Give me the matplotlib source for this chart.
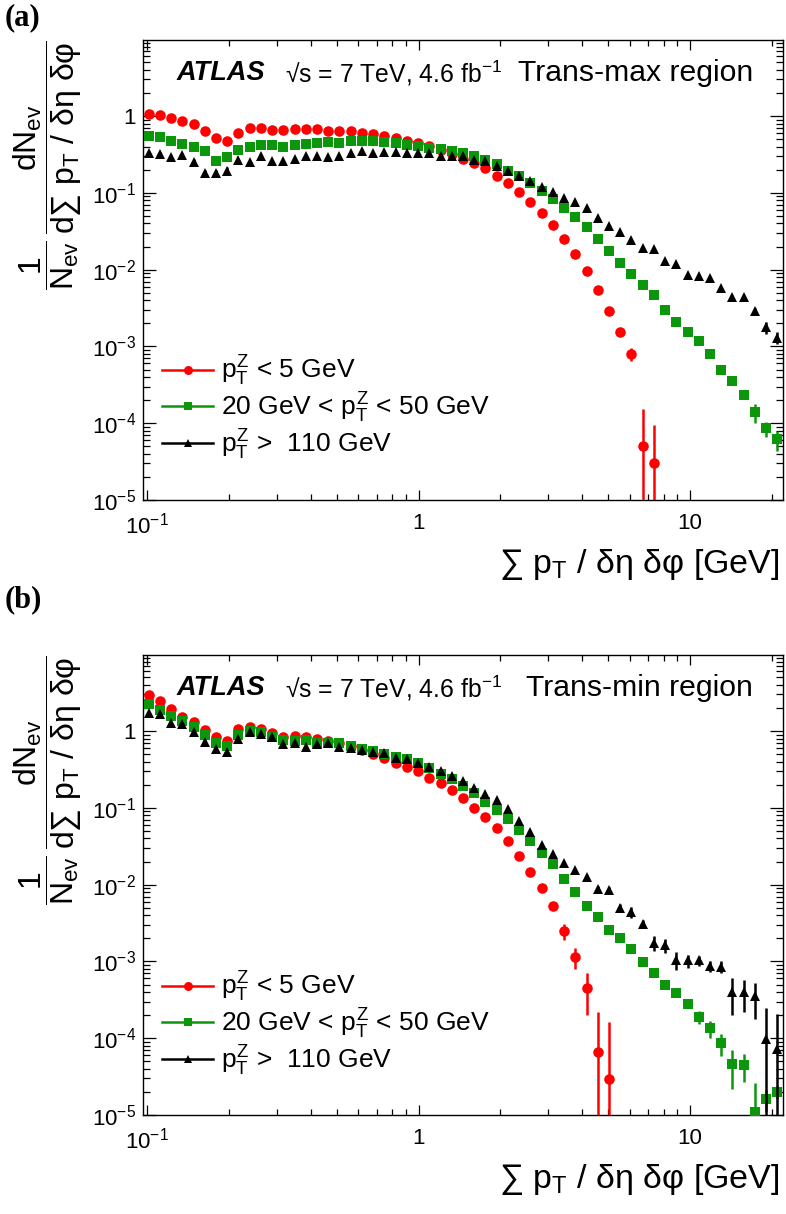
import numpy as np
import matplotlib
matplotlib.use('Agg')
import matplotlib.pyplot as plt
from matplotlib.lines import Line2D
from matplotlib.ticker import FixedLocator, FixedFormatter, LogLocator, NullFormatter

plt.rcParams['font.family'] = ['Liberation Sans', 'DejaVu Sans']
plt.rcParams['mathtext.fontset'] = 'custom'
plt.rcParams['mathtext.rm'] = 'Liberation Sans'
plt.rcParams['mathtext.it'] = 'Liberation Sans'
plt.rcParams['mathtext.bf'] = 'Liberation Sans:bold'
plt.rcParams['mathtext.sf'] = 'Liberation Sans'

# ---------------- data ----------------
# bin centres of sum pT / (deta dphi) [GeV]
x_centres = [0.1011, 0.1112, 0.1223, 0.1346, 0.1480, 0.1628, 0.1791, 0.1970, 0.2167, 0.2384,
             0.2622, 0.2884, 0.3173, 0.3490, 0.3839, 0.4223, 0.4646, 0.5110, 0.5621, 0.6183,
             0.6802, 0.7482, 0.8230, 0.9053, 0.9958, 1.0954, 1.2050, 1.3255, 1.4580, 1.6038,
             1.7642, 1.9406, 2.1347, 2.3481, 2.5830, 2.8412, 3.1254, 3.4379, 3.7817, 4.1599,
             4.5759, 5.0335, 5.5368, 6.0905, 6.6996, 7.3695, 8.1065, 8.9171, 9.8088, 10.790,
             11.869, 13.056, 14.361, 15.797, 17.377, 19.115, 21.026]

series_labels = [r'$p_{\mathrm{T}}^{\mathrm{Z}}$ < 5 GeV',
                 r'20 GeV < $p_{\mathrm{T}}^{\mathrm{Z}}$ < 50 GeV',
                 r'$p_{\mathrm{T}}^{\mathrm{Z}}$ >  110 GeV']

# ---- panel (a): trans-max ----
a_low = [1.06, 1.03, 0.94, 0.86, 0.79, 0.64, 0.52, 0.48, 0.60, 0.70,
         0.70, 0.65, 0.65, 0.68, 0.67, 0.68, 0.64, 0.64, 0.64, 0.61,
         0.58, 0.55, 0.52, 0.48, 0.45, 0.41, 0.36, 0.32, 0.28, 0.243,
         0.211, 0.168, 0.134, 0.102, 0.076, 0.055, 0.038, 0.0253, 0.0162, 0.0096,
         0.0054, 0.0029, 0.00155, 0.00080, 5.1e-5, 3.0e-5]
a_low_err = [0] * 40 + [0.0003, 0.0002, 0.00015, 0.00016, 1.0e-4, 6.4e-5]

a_mid = [0.545, 0.53, 0.47, 0.43, 0.40, 0.35, 0.26, 0.29, 0.36, 0.40,
         0.42, 0.42, 0.40, 0.42, 0.43, 0.45, 0.46, 0.45, 0.47, 0.47,
         0.47, 0.46, 0.44, 0.42, 0.41, 0.39, 0.37, 0.35, 0.33, 0.305,
         0.27, 0.236, 0.195, 0.165, 0.135, 0.107, 0.084, 0.063, 0.048, 0.036,
         0.0253, 0.0173, 0.0121, 0.0088, 0.0063, 0.0047, 0.0030, 0.0021, 0.00155, 0.00117,
         0.00080, 0.00049, 0.00036, 0.000235, 0.000140, 8.6e-5, 6.2e-5]
a_mid_err = [0] * 50 + [4e-5, 3e-5, 3e-5, 3e-5, 4e-5, 1.9e-5, 1.8e-5]

a_high = [0.33, 0.32, 0.29, 0.31, 0.255, 0.18, 0.18, 0.195, 0.27, 0.25,
          0.30, 0.26, 0.26, 0.28, 0.30, 0.30, 0.29, 0.30, 0.33, 0.35,
          0.33, 0.34, 0.345, 0.335, 0.335, 0.33, 0.305, 0.30, 0.30, 0.27,
          0.26, 0.226, 0.195, 0.168, 0.142, 0.118, 0.104, 0.085, 0.076, 0.064,
          0.047, 0.0375, 0.031, 0.024, 0.0193, 0.0184, 0.0130, 0.0120, 0.0084, 0.0083,
          0.0077, 0.0057, 0.0044, 0.0044, 0.0029, 0.00177, 0.00130]
a_high_err = [0.01, 0.02, 0.01, 0.02, 0.02, 0.02, 0.02, 0.02] + [0] * 44 + \
             [0.0003, 0.0003, 0.0003, 0.0003, 0.00022]

# ---- panel (b): trans-min ----
b_low = [2.95, 2.46, 1.94, 1.54, 1.30, 1.03, 0.83, 0.75, 1.06, 1.12,
         1.06, 0.94, 0.83, 0.87, 0.83, 0.78, 0.74, 0.70, 0.64, 0.57,
         0.50, 0.44, 0.38, 0.34, 0.30, 0.244, 0.21, 0.172, 0.134, 0.101,
         0.075, 0.054, 0.037, 0.0233, 0.0146, 0.0090, 0.0053, 0.0025, 0.00115, 0.00045,
         6.7e-5, 2.9e-5]
b_low_err = [0] * 36 + [0.0006, 0.0006, 0.00035, 0.00025, 1.55e-4, 1.35e-4]

b_mid = [2.25, 1.90, 1.58, 1.36, 1.12, 0.89, 0.71, 0.64, 0.90, 0.99,
         0.96, 0.85, 0.77, 0.75, 0.77, 0.71, 0.71, 0.70, 0.64, 0.58,
         0.55, 0.51, 0.46, 0.43, 0.38, 0.33, 0.28, 0.237, 0.194, 0.154,
         0.12, 0.094, 0.071, 0.051, 0.037, 0.026, 0.0188, 0.0118, 0.0080, 0.0053,
         0.0038, 0.0026, 0.0020, 0.00147, 0.00097, 0.00071, 0.00050, 0.00039, 0.00028, 0.00019,
         0.000136, 8.6e-5, 4.6e-5, 4.5e-5, 1.1e-5, 1.6e-5, 2.0e-5]
b_mid_err = [0] * 46 + [3e-5, 3e-5, 3.4e-5, 3.5e-5, 3.4e-5, 2.8e-5, 2.4e-5, 1.8e-5,
                        1.5e-5, 0.5e-5, 0.4e-5]

b_high = [1.72, 1.67, 1.26, 1.23, 0.96, 0.73, 0.58, 0.54, 0.79, 0.96,
          0.91, 0.83, 0.68, 0.70, 0.63, 0.68, 0.70, 0.63, 0.61, 0.57,
          0.54, 0.52, 0.45, 0.43, 0.38, 0.34, 0.30, 0.26, 0.225, 0.184,
          0.151, 0.126, 0.098, 0.068, 0.048, 0.033, 0.025, 0.0194, 0.0154, 0.0124,
          0.0087, 0.0085, 0.0050, 0.0044, 0.0031, 0.00175, 0.00163, 0.00105, 0.00103, 0.00103,
          0.00087, 0.00085, 0.00040, 0.00040, 0.00035, 9.7e-5, 7.2e-5]
b_high_err = [0] * 40 + [0.0008, 0.0008, 0.0006, 0.0007, 0.0004, 0.00037, 0.00035, 0.00027,
                         0.0002, 0.00015, 0.00015, 0.00015, 0.0002, 0.00018, 0.00017,
                         1.47e-4, 1.34e-4]

x_ticks = [0.1, 1, 10]
x_ticklabels = [r'$10^{-1}$', '1', '10']
y_ticks = [1e-5, 1e-4, 1e-3, 1e-2, 1e-1, 1]
y_ticklabels = [r'$10^{-5}$', r'$10^{-4}$', r'$10^{-3}$', r'$10^{-2}$', r'$10^{-1}$', '1']

colors = ['#ff0000', '#0b960b', '#000000']
markers = ['o', 's', '^']
msizes = [7.6, 6.8, 7.6]

# ---------------- figure ----------------
fig = plt.figure(figsize=(7.86, 12.14), dpi=100)
L = 143 / 786
W = 640 / 786
H = 460 / 1214
ax_a = fig.add_axes([L, 1 - 500 / 1214, W, H])
ax_b = fig.add_axes([L, 1 - 1115 / 1214, W, H])

FS_TICK = 16
FS_TXT = 19


def style(ax):
    ax.set_xscale('log')
    ax.set_yscale('log')
    ax.set_xlim(0.0964, 22.05)
    ax.set_ylim(1e-5, 9.8)
    ax.xaxis.set_major_locator(FixedLocator(x_ticks))
    ax.xaxis.set_major_formatter(FixedFormatter(x_ticklabels))
    ax.xaxis.set_minor_locator(LogLocator(base=10, subs=np.arange(2, 10), numticks=30))
    ax.xaxis.set_minor_formatter(NullFormatter())
    ax.yaxis.set_major_locator(FixedLocator(y_ticks))
    ax.yaxis.set_major_formatter(FixedFormatter(y_ticklabels))
    ax.yaxis.set_minor_locator(LogLocator(base=10, subs=np.arange(2, 10), numticks=30))
    ax.yaxis.set_minor_formatter(NullFormatter())
    ax.tick_params(which='both', direction='in', top=True, right=True, width=0.9,
                   labelsize=FS_TICK)
    ax.tick_params(axis='y', which='major', length=9.5, pad=5)
    ax.tick_params(axis='y', which='minor', length=5)
    ax.tick_params(axis='x', which='major', length=7.5, pad=9)
    ax.tick_params(axis='x', which='minor', length=4.5)
    for s in ax.spines.values():
        s.set_linewidth(1.0)


def draw(ax, ys, errs, region, legend_y):
    xs = np.array(x_centres)
    for y, e, c, m, ms, z in zip(ys, errs, colors, markers, msizes, [3, 4, 5]):
        y = np.array(y)
        e = np.array(e)
        n = len(y)
        lower = np.minimum(e, y * 0.999999)
        ax.errorbar(xs[:n], y, yerr=[lower, e], fmt=m, color=c, ms=ms, mew=0,
                    elinewidth=1.8, capsize=0, zorder=z)
    ax.text(0.052, 0.928, 'ATLAS', transform=ax.transAxes, fontsize=FS_TXT + 0.5,
            fontweight='bold', fontstyle='italic', va='center', ha='left')
    ax.text(0.222, 0.928, r'√s = 7 TeV, 4.6 fb$^{-1}$', transform=ax.transAxes,
            fontsize=17.8, va='center', ha='left')
    ax.text(0.953, 0.928, region, transform=ax.transAxes,
            fontsize=21.7, va='center', ha='right')
    handles = [Line2D([], [], color=c, marker=m, ms=ms * 0.85, mew=0, lw=1.8)
               for c, m, ms in zip(colors, markers, msizes)]
    ax.legend(handles, series_labels, loc='center left', bbox_to_anchor=(0.0297, legend_y),
              frameon=False, fontsize=FS_TXT, handlelength=1.95, handletextpad=0.3,
              labelspacing=0.1, borderpad=0, borderaxespad=0)
    ax.text(0.995, -0.141, r'∑ $p_{\mathrm{T}}$ / δη δφ [GeV]', transform=ax.transAxes,
            fontsize=24.5, ha='right', va='center')


ylabel = (r'$\dfrac{1}{N_{\mathrm{ev}}}\,\dfrac{dN_{\mathrm{ev}}}'
          r'{d∑\ p_{\mathrm{T}}\ /\ δη\ δφ}$')

style(ax_a)
style(ax_b)
draw(ax_a, [a_low, a_mid, a_high], [a_low_err, a_mid_err, a_high_err],
     'Trans-max region', 0.2)
draw(ax_b, [b_low, b_mid, b_high], [b_low_err, b_mid_err, b_high_err],
     'Trans-min region', 0.198)

fig.text(48 / 786, 1 - 40 / 1214, ylabel, rotation=90, ha='center', va='top', fontsize=23)
fig.text(48 / 786, 1 - 655 / 1214, ylabel, rotation=90, ha='center', va='top', fontsize=23)

fig.text(5 / 786, 1 - 18 / 1214, '(a)', family='Liberation Serif', fontweight='bold',
         fontsize=22, ha='left', va='center')
fig.text(5 / 786, 1 - 600 / 1214, '(b)', family='Liberation Serif', fontweight='bold',
         fontsize=22, ha='left', va='center')

fig.savefig('out.png', dpi=100)
